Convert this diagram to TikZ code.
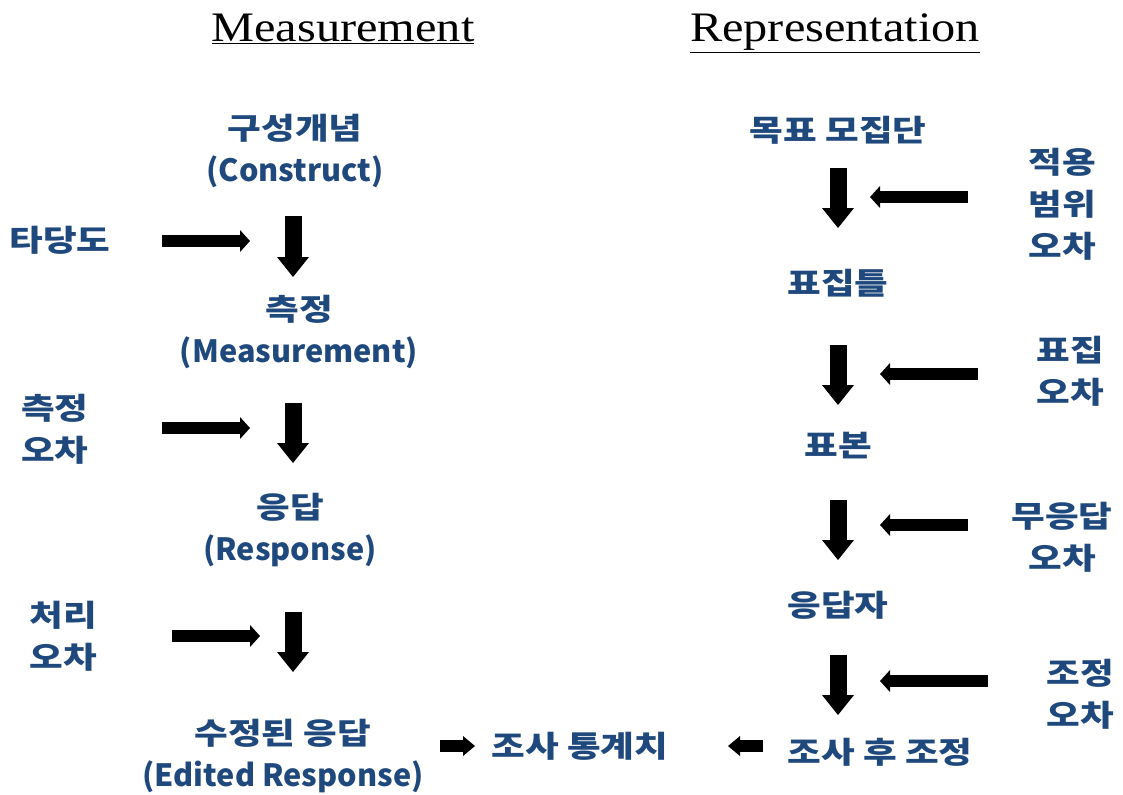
\documentclass[tikz,border=0pt]{standalone}
\usepackage{fontspec}
\setmainfont{Noto Sans CJK KR}[FakeStretch=1.22]
\newfontfamily\lat{Noto Sans CJK KR}
\newfontfamily\titlefont{Liberation Serif}[FakeStretch=1.15]
\usetikzlibrary{arrows.meta}
\definecolor{txtblue}{RGB}{31,73,125}
\newcommand{\en}[1]{{\lat\fontsize{23}{31.5}\selectfont #1}}
\begin{document}
\begin{tikzpicture}[x=0.75pt,y=-0.75pt,
  lbl/.style={text=txtblue,font=\fontsize{22.5}{31.5}\selectfont\bfseries,align=center,inner sep=0pt},
  ttl/.style={font=\titlefont\fontsize{31.5}{36}\selectfont,inner sep=0pt,anchor=base},
  downarr/.style={line width=12.75pt,-{Triangle[length=15pt,width=24pt,line width=0pt]}},
  sidearr/.style={line width=9pt,-{Triangle[length=7.5pt,width=16.5pt,line width=0pt]}},
  smallarr/.style={line width=9pt,-{Triangle[length=9pt,width=15pt,line width=0pt]}}]
\useasboundingbox (0,0) rectangle (1123,794);

% titles
\node[ttl] (tm) at (343,41) {\underline{Measurement}};
\node[ttl] (tr) at (835,41) {\underline{Representation}};

% left column
\node[lbl] (construct) at (295,151) {구성개념\\\en{(Construct)}};
\node[lbl] (measure) at (299,332) {측정\\\en{(Measurement)}};
\node[lbl] (response) at (290,530) {응답\\\en{(Response)}};
\node[lbl] (edited) at (283,756) {수정된 응답\\\en{(Edited Response)}};
\node[lbl] (valid) at (60,240) {타당도};
\node[lbl] (merr) at (55,429) {측정\\오차};
\node[lbl] (perr) at (63,636) {처리\\오차};

% right column
\node[lbl] (target) at (838,130) {목표 모집단};
\node[lbl] (frame) at (838,283) {표집틀};
\node[lbl] (sample) at (838,446) {표본};
\node[lbl] (resp) at (838,605) {응답자};
\node[lbl] (post) at (880,752) {조사 후 조정};
\node[lbl] (stat) at (580,746) {조사 통계치};
\node[lbl] (cerr) at (1062,204) {적용\\범위\\오차};
\node[lbl] (serr) at (1070,371) {표집\\오차};
\node[lbl] (nerr) at (1062,537) {무응답\\오차};
\node[lbl] (aerr) at (1080,694) {조정\\오차};

% arrow end points
\coordinate (d1s) at (293,216); \coordinate (d1e) at (293,277);
\coordinate (d2s) at (293,403); \coordinate (d2e) at (293,463);
\coordinate (d3s) at (293,612); \coordinate (d3e) at (293,672);
\coordinate (h1s) at (162,241); \coordinate (h1e) at (250,241);
\coordinate (h2s) at (162,428); \coordinate (h2e) at (250,428);
\coordinate (h3s) at (172,636); \coordinate (h3e) at (260,636);

\coordinate (r1s) at (838,168); \coordinate (r1e) at (838,228);
\coordinate (r2s) at (838,345); \coordinate (r2e) at (838,405);
\coordinate (r3s) at (838,500); \coordinate (r3e) at (838,560);
\coordinate (r4s) at (838,655); \coordinate (r4e) at (838,715);
\coordinate (l1s) at (968,197); \coordinate (l1e) at (870,197);
\coordinate (l2s) at (978,374); \coordinate (l2e) at (880,374);
\coordinate (l3s) at (968,525); \coordinate (l3e) at (880,525);
\coordinate (l4s) at (988,681); \coordinate (l4e) at (880,681);

\coordinate (b1s) at (440,746); \coordinate (b1e) at (475,746);
\coordinate (b2s) at (763,746); \coordinate (b2e) at (728,746);

\draw[downarr] (d1s) -- (d1e);
\draw[downarr] (d2s) -- (d2e);
\draw[downarr] (d3s) -- (d3e);
\draw[sidearr] (h1s) -- (h1e);
\draw[sidearr] (h2s) -- (h2e);
\draw[sidearr] (h3s) -- (h3e);
\draw[downarr] (r1s) -- (r1e);
\draw[downarr] (r2s) -- (r2e);
\draw[downarr] (r3s) -- (r3e);
\draw[downarr] (r4s) -- (r4e);
\draw[sidearr] (l1s) -- (l1e);
\draw[sidearr] (l2s) -- (l2e);
\draw[sidearr] (l3s) -- (l3e);
\draw[sidearr] (l4s) -- (l4e);
\draw[smallarr] (b1s) -- (b1e);
\draw[smallarr] (b2s) -- (b2e);
\end{tikzpicture}
\end{document}
